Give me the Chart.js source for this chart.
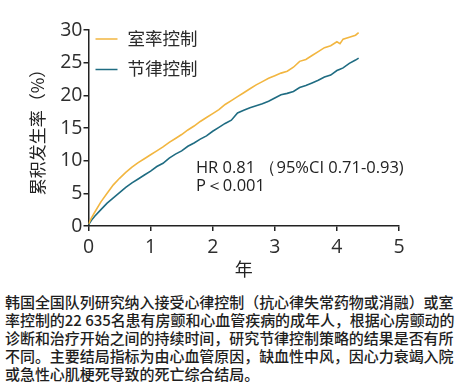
<!DOCTYPE html>
<html>
<head>
<meta charset="utf-8">
<script src="https://cdn.jsdelivr.net/npm/chart.js@4.4.1/dist/chart.umd.min.js"></script>
<style>
  body { margin: 0; background: #fff; width: 457px; height: 383px; overflow: hidden; position: relative; }
  #graf { position: absolute; left: 0; top: 0; }
  #nota {
    position: absolute; left: 5px; top: 293px;
    font-family: "Noto Sans CJK SC", sans-serif; font-size: 15px; font-weight: 500; line-height: 17.9px;
    color: #1e1e1e; white-space: nowrap; letter-spacing: -0.05px;
  }
</style>
</head>
<body>
<canvas id="graf" width="457" height="290"></canvas>
<div id="nota">韩国全国队列研究纳入接受心律控制（抗心律失常药物或消融）或室<br>率控制的22 635名患有房颤和心血管疾病的成年人，根据心房颤动的<br>诊断和治疗开始之间的持续时间，研究节律控制策略的结果是否有所<br>不同。主要结局指标为由心血管原因，缺血性中风，因心力衰竭入院<br>或急性心肌梗死导致的死亡综合结局。</div>
<script>
// Tiempo en años
const anios = [0, 0.05, 0.1, 0.2, 0.3, 0.4, 0.5, 0.6, 0.7, 0.8, 0.9, 1.0, 1.1, 1.2, 1.3, 1.4, 1.5, 1.6, 1.7, 1.8, 1.9,
    2.0, 2.1, 2.2, 2.3, 2.4, 2.5, 2.6, 2.7, 2.8, 2.9, 3.0, 3.1, 3.2, 3.3, 3.4, 3.5, 3.6, 3.7, 3.8, 3.9,
    4.0, 4.05, 4.1, 4.2, 4.3, 4.35];

// Incidencia acumulada (%)
const controlFrecuencia = [0.3, 1.3, 2.1, 3.7, 5.0, 6.3, 7.3, 8.2, 9.0, 9.7, 10.3, 10.9, 11.5, 12.1, 12.8, 13.4, 14.0, 14.7, 15.3, 16.0, 16.6,
    17.2, 17.8, 18.6, 19.2, 19.8, 20.4, 21.0, 21.6, 22.1, 22.6, 23.0, 23.4, 23.7, 24.3, 25.2, 25.5, 26.1, 26.7, 27.3, 27.6,
    28.2, 27.9, 28.6, 28.9, 29.2, 29.6];
const controlRitmo = [0.2, 0.9, 1.5, 2.5, 3.5, 4.3, 5.1, 5.9, 6.6, 7.2, 7.8, 8.4, 9.1, 9.6, 10.4, 11.0, 11.5, 12.2, 12.7, 13.3, 13.8,
    14.5, 15.1, 15.7, 16.2, 17.3, 17.7, 18.1, 18.4, 18.7, 19.1, 19.6, 20.1, 20.3, 20.6, 21.2, 21.5, 21.9, 22.3, 22.8, 23.1,
    23.8, 24.0, 24.2, 24.9, 25.4, 25.7];

const series = ["室率控制", "节律控制"];
const colores = ["#f2b640", "#1f6c82"];
const ticksX = [0, 1, 2, 3, 4, 5];
const ticksY = [0, 5, 10, 15, 20, 25, 30];
const textoHR = "HR 0.81 （95%CI 0.71-0.93)";
const textoP = "P＜0.001";

const ejes = "#222";

// Leyenda y anotación dibujadas a mano
const extras = {
    id: "extras",
    afterDraw(chart) {
        const c = chart.ctx;
        const a = chart.chartArea;
        c.save();
        series.forEach((s, i) => {
            const y = 39 + i * 30.5;
            c.strokeStyle = colores[i];
            c.lineWidth = 1.5;
            c.beginPath();
            c.moveTo(a.left + 7, y);
            c.lineTo(a.left + 29, y);
            c.stroke();
            c.fillStyle = "#2a2a2a";
            c.font = '17.5px "Noto Sans CJK SC"';
            c.textBaseline = "middle";
            c.fillText(s, a.left + 39, y - 1);
        });
        c.font = '16.5px "Open Sans"';
        c.fillStyle = "#222";
        c.textBaseline = "middle";
        const x0 = chart.scales.x.getPixelForValue(1.73);
        c.fillText(textoHR, x0, chart.scales.y.getPixelForValue(8.9));
        c.fillText(textoP, x0, chart.scales.y.getPixelForValue(6.1));
        c.restore();
    }
};

new Chart(document.getElementById("graf"), {
    type: "line",
    data: {
        datasets: [controlFrecuencia, controlRitmo].map((vals, i) => ({
            label: series[i],
            data: anios.map((t, j) => ({ x: t, y: vals[j] })),
            borderColor: colores[i],
            borderWidth: 1.6,
            pointRadius: 0,
            tension: 0,
            fill: false
        }))
    },
    options: {
        responsive: false,
        animation: false,
        layout: { padding: { left: 0, right: 58, top: 30, bottom: 0 } },
        plugins: { legend: { display: false }, tooltip: { enabled: false } },
        scales: {
            x: {
                type: "linear",
                min: 0,
                max: 5,
                afterBuildTicks: s => { s.ticks = ticksX.map(v => ({ value: v })); },
                afterFit: s => { s.height = 64; },
                border: { color: ejes, width: 1.5 },
                grid: { drawOnChartArea: false, tickLength: 5, color: ejes, lineWidth: 1.5 },
                ticks: { color: "#2e2e2e", font: { family: "Open Sans", size: 19.5 }, padding: 5 },
                title: {
                    display: true,
                    text: "年",
                    color: "#222",
                    font: { family: "Noto Sans CJK SC", size: 18 },
                    padding: { top: 0, bottom: 10 }
                }
            },
            y: {
                min: 0,
                max: 30,
                afterBuildTicks: s => { s.ticks = ticksY.map(v => ({ value: v })); },
                afterFit: s => { s.width = 88.5; },
                border: { color: ejes, width: 1.5 },
                grid: { drawOnChartArea: false, tickLength: 5, color: ejes, lineWidth: 1.5 },
                ticks: { color: "#2e2e2e", font: { family: "Open Sans", size: 19.5 }, padding: 1 },
                title: {
                    display: true,
                    text: "累积发生率（%）",
                    color: "#222",
                    font: { family: "Noto Sans CJK SC", size: 17 },
                    padding: { top: 27, bottom: 0 }
                }
            }
        }
    },
    plugins: [extras]
});
</script>
</body>
</html>
